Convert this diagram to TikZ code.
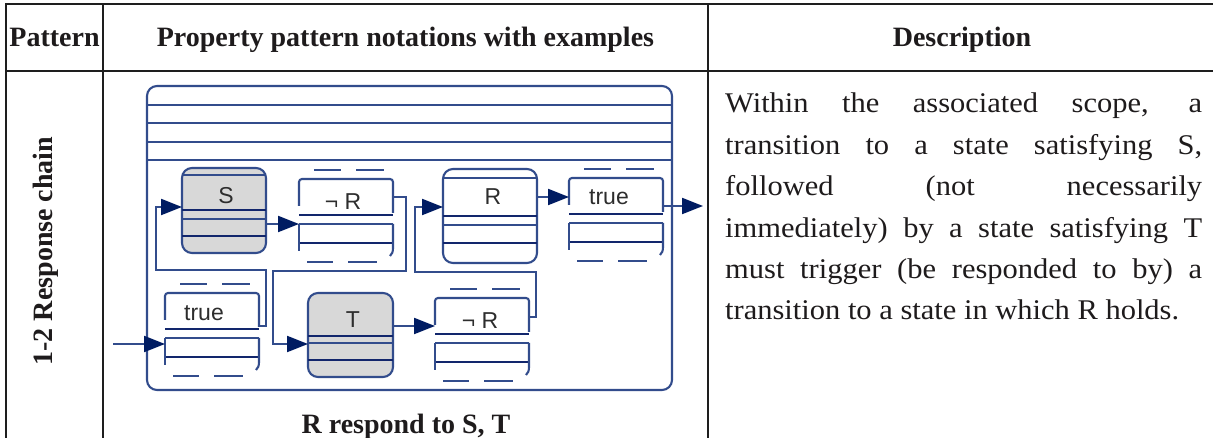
\documentclass[tikz,border=0pt]{standalone}
\usepackage{fontspec}
\setmainfont{Liberation Serif}
\newfontfamily\labfont{Liberation Sans}
\newfontfamily\descfont[FakeStretch=1.07]{Liberation Serif}
\usetikzlibrary{arrows.meta}
\definecolor{edgec}{RGB}{50,76,140}
\definecolor{innerc}{RGB}{18,38,108}
\definecolor{headc}{RGB}{0,28,98}
\definecolor{grayf}{RGB}{216,216,216}
\definecolor{tabc}{RGB}{30,30,30}
\definecolor{txtc}{RGB}{30,27,28}
\definecolor{labc}{RGB}{45,45,45}
\tikzset{
 edge/.style={draw=edgec, line width=2.1pt},
 inner/.style={draw=innerc, line width=1.5pt},
 conn/.style={draw=edgec, line width=2.1pt},
 arr/.style={conn, -{Triangle[length=21pt,width=16pt,color=headc,fill=headc]}},
 tabline/.style={draw=tabc, line width=2.8pt, line cap=rect},
 statebox/.style={draw=edgec, line width=2.1pt, rounded corners=10pt, anchor=north west, inner sep=0pt, outer sep=0pt},
 dbox/.style={draw=none, anchor=north west, minimum width=94pt, minimum height=75pt, inner sep=0pt, outer sep=0pt},
 lbl/.style={font=\labfont\fontsize{23}{27}\selectfont, text=labc, anchor=base, inner sep=0pt},
 boldtxt/.style={font=\bfseries\fontsize{28}{32}\selectfont, text=txtc, inner sep=0pt},
}
\newcommand{\dstate}[3]{%
 \node[dbox] (#1) at (#2,#3) {};
 \begin{scope}[shift={(#1.north west)}]
  \draw[edge] (15,-9) -- (42,-9) (57,-9) -- (85,-9);
  \draw[edge] (8,83) -- (34,83) (49,83) -- (78,83);
  \draw[edge,rounded corners=3pt] (0,27) -- (0,0) -- (94,0) -- (94,34);
  \draw[inner] (0,36) -- (94,36);
  \draw[edge] (0,45) -- (94,45);
  \draw[inner] (0,64) -- (94,64);
  \draw[edge] (0,45) -- (0,72);
  \draw[edge] (94,45) -- (94,69) .. controls (94,73) and (93,75) .. (91,77);
 \end{scope}}
\begin{document}
\begin{tikzpicture}[x=1pt,y=-1pt]
\useasboundingbox[fill=white] (0,0) rectangle (1213,438);
% table
\draw[tabline] (6,4) -- (1213,4);
\draw[tabline] (6,71) -- (1213,71);
\draw[tabline] (6,4) -- (6,438);
\draw[tabline] (103,4) -- (103,438);
\draw[tabline] (708,4) -- (708,438);
\node[boldtxt, anchor=base] (hp) at (54.5,47) {Pattern};
\node[boldtxt, anchor=base] (hn) at (405.5,47) {Property pattern notations with examples};
\node[boldtxt, anchor=base] (hd) at (962,47) {Description};
\node[boldtxt, rotate=90, anchor=base] (pc) at (52,251) {1-2 Response chain};
\node[boldtxt, anchor=base] (cap) at (406,433) {R respond to S, T};
\node[anchor=base west, text width=477pt, align=justify, inner sep=0pt, text=txtc, font=\descfont\fontsize{28.5}{41.4}\selectfont] (desc) at (725,113)
 {\tolerance=10000\hbadness=10000\noindent Within the associated scope, a\linebreak transition to a state satisfying S,\linebreak followed (not necessarily\linebreak immediately) by a state satisfying T\linebreak must trigger (be responded to by) a\linebreak transition to a state in which R holds.};
% outer scope box
\node[statebox, minimum width=525pt, minimum height=304pt] (scopebox) at (147,86) {};
\foreach \yy in {105,123,142,160} \draw[edge] (147,\yy) -- (672,\yy);
% states
\node[statebox, fill=grayf, minimum width=84pt, minimum height=85pt] (S) at (182,168) {};
\begin{scope}[shift={(S.north west)}]
 \draw[edge] (1,7) -- (83,7); \draw[inner] (0,42) -- (84,42);
 \draw[edge] (0,51) -- (84,51); \draw[inner] (0,68) -- (84,68);
\end{scope}
\node[statebox, fill=white, minimum width=94pt, minimum height=94pt] (R) at (443,169) {};
\begin{scope}[shift={(R.north west)}]
 \draw[edge] (1,9) -- (93,9); \draw[inner] (0,47) -- (94,47);
 \draw[edge] (0,56) -- (94,56); \draw[inner] (0,74) -- (94,74);
\end{scope}
\node[statebox, fill=grayf, minimum width=85pt, minimum height=84pt] (T) at (308,293) {};
\begin{scope}[shift={(T.north west)}]
 \draw[inner] (0,43) -- (85,43);
 \draw[edge] (0,50) -- (85,50); \draw[inner] (0,67) -- (85,67);
\end{scope}
\dstate{nr1}{299}{179}
\dstate{tr1}{569}{178}
\dstate{tr0}{165}{293}
\dstate{nr2}{435}{298}
% labels
\node[lbl] (Sl) at (226,204) {S};
\node[lbl] (Rl) at (493,205) {R};
\node[lbl] (Tl) at (353,328) {T};
\node[lbl] (tl1) at (609,205) {true};
\node[lbl] (tl0) at (204,321) {true};
\node[lbl] (nl1) at (343,210) {¬ R};
\node[lbl] (nl2) at (480,329) {¬ R};
% connection points
\coordinate (Sin) at ([yshift=-39pt]S.north west);
\coordinate (Sout) at ([yshift=-56pt]S.north east);
\coordinate (Rin) at ([yshift=-38pt]R.north west);
\coordinate (Rout) at ([yshift=-28pt]R.north east);
\coordinate (Tin) at ([yshift=-51pt]T.north west);
\coordinate (Tout) at ([yshift=-33pt]T.north east);
\coordinate (nr1in) at ([yshift=-45pt]nr1.north west);
\coordinate (nr1out) at ([yshift=-18pt]nr1.north east);
\coordinate (tr1in) at ([yshift=-19pt]tr1.north west);
\coordinate (tr1out) at ([yshift=-28pt]tr1.north east);
\coordinate (tr0in) at ([yshift=-51pt]tr0.north west);
\coordinate (tr0out) at ([yshift=-33pt]tr0.north east);
\coordinate (nr2in) at ([yshift=-28pt]nr2.north west);
\coordinate (nr2out) at ([yshift=-19pt]nr2.north east);
\coordinate (start) at (113,344);
\coordinate (exit) at (703,206);
% connectors
\draw[arr] (start) -- (tr0in);
\draw[arr] (tr0out) -| (266,270) -- (156,270) |- (Sin);
\draw[arr] (Sout) -- (nr1in);
\draw[arr] (nr1out) -| (406,271) -- (273,271) |- (Tin);
\draw[arr] (Tout) -- (nr2in);
\draw[arr] (nr2out) -| (536,272) -- (415,272) |- (Rin);
\draw[arr] (Rout) -- (tr1in);
\draw[arr] (tr1out) -- (exit);
\end{tikzpicture}
\end{document}
